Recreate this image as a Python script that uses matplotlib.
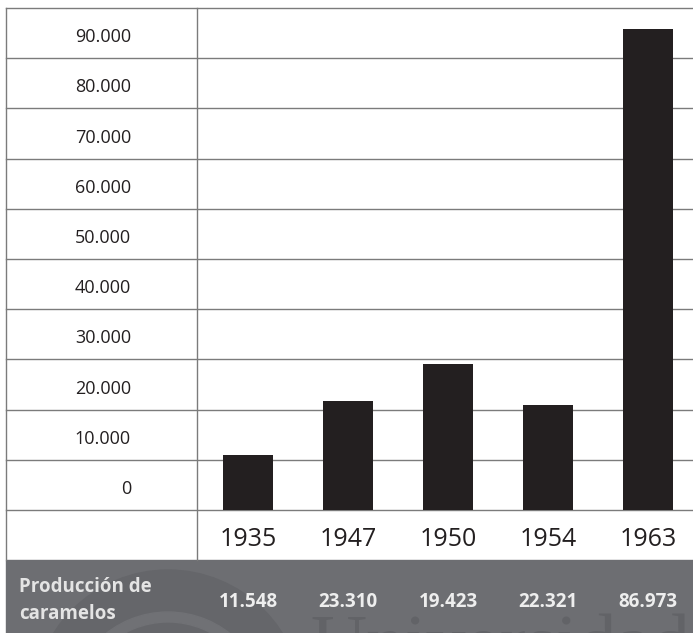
"""Bar chart of candy production by year, drawn as a ruled table with a value band."""

import matplotlib

matplotlib.use("Agg")
import matplotlib.pyplot as plt
from matplotlib.patches import Annulus, Circle, Rectangle

# Data.
years = ["1935", "1947", "1950", "1954", "1963"]
bar_heights = [11000, 21700, 29100, 20900, 95800]  # drawn bar heights
table_values = ["11.548", "23.310", "19.423", "22.321", "86.973"]  # band labels
row_values = [0, 10000, 20000, 30000, 40000, 50000, 60000, 70000, 80000, 90000]
row_labels = ["0", "10.000", "20.000", "30.000", "40.000",
              "50.000", "60.000", "70.000", "80.000", "90.000"]
band_title = ["Producción de", "caramelos"]

_W, _H = 693, 633
_BAR = "#231f20"
_RULE = "#7b7b7b"
_BAND = "#6d6e72"
_BAND_TEXT = "#eeeeee"
_FONT = "Open Sans"

fig = plt.figure(figsize=(_W / 100, _H / 100), dpi=100, facecolor="white")

# Background axes in pixel coordinates for the table frame and the band.
bg = fig.add_axes([0, 0, 1, 1])
bg.set_xlim(0, _W)
bg.set_ylim(_H, 0)
bg.axis("off")

bg.add_patch(Rectangle((6, 560), _W - 6, 80, color=_BAND, zorder=1))
# faint watermark in the band
bg.add_patch(Circle((168, 705), 135, color="#65666a", zorder=1.2))
bg.add_patch(Annulus((168, 712), 100, 10, color="#707175", zorder=1.3))
bg.text(310, 668, "Universidad", family="Liberation Serif", fontsize=56,
        color="#626367", zorder=1.4)

for x in (6, 197):
    bg.plot([x, x], [8, 560], color=_RULE, lw=1.0, zorder=2)

bg.text(19, 592, band_title[0], family=_FONT, fontweight="bold", fontsize=13.5,
        color="#e4e4e4", zorder=3)
bg.text(19, 619, band_title[1], family=_FONT, fontweight="bold", fontsize=13.5,
        color="#e4e4e4", zorder=3)

# Bar axes: the chart area right of the label column.
left, right, top, bottom = 197, _W, 8, 510
ax = fig.add_axes([left / _W, 1 - bottom / _H, (right - left) / _W, (bottom - top) / _H])
ax.patch.set_alpha(0)
ax.set_xlim(-0.51, 4.45)
ax.set_ylim(0, 100000)
for side in ax.spines.values():
    side.set_visible(False)
ax.set_xticks([])
ax.set_yticks([])

xs = list(range(len(years)))
ax.bar(xs, bar_heights, width=0.5, color=_BAR, zorder=3)

# Row rules run across the label column too.
x_start = (6 - left) / (right - left)
for v in row_values + [100000]:
    ax.axhline(v, xmin=x_start, xmax=1, color=_RULE, lw=1.0, clip_on=False, zorder=2)

label_x = (131 - left) / (right - left)
for v, label in zip(row_values, row_labels):
    ax.text(label_x, v + 3200, label, transform=ax.get_yaxis_transform(),
            ha="right", va="baseline", family=_FONT, fontsize=13,
            color="#231f20", clip_on=False)

px = 100000 / (bottom - top)  # data units per pixel
for x, year, value in zip(xs, years, table_values):
    ax.text(x, -(546 - bottom) * px, year, ha="center", va="baseline",
            family=_FONT, fontsize=18, color="#231f20", clip_on=False)
    ax.text(x, -(607 - bottom) * px, value, ha="center", va="baseline",
            family=_FONT, fontweight="bold", fontsize=13.5, color=_BAND_TEXT,
            clip_on=False, zorder=5)

fig.savefig("out.png", dpi=100, facecolor="white")
plt.close(fig)
